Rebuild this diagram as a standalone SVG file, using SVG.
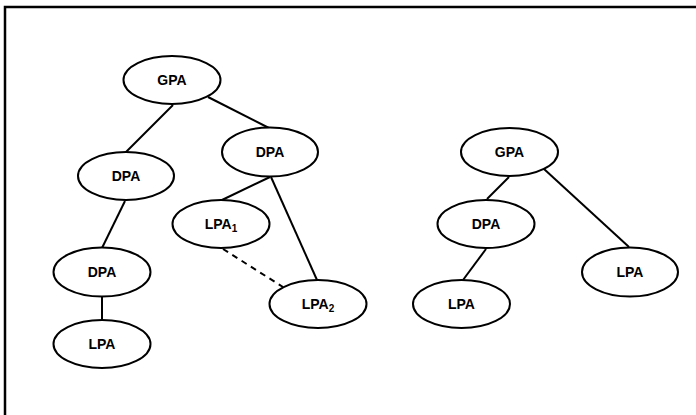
<svg xmlns="http://www.w3.org/2000/svg" width="696" height="415" viewBox="0 0 696 415">
<style>
.n ellipse{fill:#fff;stroke:#000;stroke-width:2}
.n text{font-family:"Liberation Sans",Arial,sans-serif;font-weight:bold;font-size:14px;text-anchor:middle;fill:#000}
.sub{font-size:10px}
#edges line{stroke:#000;stroke-width:2}
#edges .dash{stroke-dasharray:6,5}
</style>
<rect x="5" y="7" width="700" height="420" fill="#fff" stroke="#000" stroke-width="2.5"/>
<g id="edges">
<line x1="173" y1="105" x2="126" y2="152"/>
<line x1="208" y1="97" x2="269" y2="128"/>
<line x1="125" y1="201" x2="102" y2="248"/>
<line x1="102" y1="297" x2="102" y2="320"/>
<line x1="270" y1="177" x2="222" y2="200"/>
<line x1="271" y1="177" x2="317" y2="280"/>
<line class="dash" x1="223" y1="249" x2="283" y2="287"/>
<line x1="509" y1="177" x2="487" y2="199"/>
<line x1="544" y1="169" x2="629" y2="247"/>
<line x1="486" y1="249" x2="463" y2="280"/>
</g>
<g id="gpa1" class="n"><ellipse cx="172" cy="80" rx="48.5" ry="24"/><text x="172" y="85">GPA</text></g>
<g id="dpa1" class="n"><ellipse cx="270" cy="152" rx="48" ry="24.5"/><text x="270" y="157">DPA</text></g>
<g id="dpa2" class="n"><ellipse cx="126" cy="176" rx="48" ry="24"/><text x="126" y="181">DPA</text></g>
<g id="lpa1" class="n"><ellipse cx="221" cy="224" rx="48.5" ry="24"/><text x="221" y="229">LPA<tspan class="sub" dy="3">1</tspan></text></g>
<g id="dpa3" class="n"><ellipse cx="102" cy="272" rx="48.5" ry="24.5"/><text x="102" y="277">DPA</text></g>
<g id="lpa3" class="n"><ellipse cx="102" cy="344" rx="48.5" ry="24"/><text x="102" y="349">LPA</text></g>
<g id="lpa2" class="n"><ellipse cx="318" cy="304" rx="48.5" ry="24"/><text x="318" y="309">LPA<tspan class="sub" dy="3">2</tspan></text></g>
<g id="gpa2" class="n"><ellipse cx="509.5" cy="152" rx="48.5" ry="24"/><text x="509.5" y="157">GPA</text></g>
<g id="dpa4" class="n"><ellipse cx="486" cy="224" rx="48.5" ry="24"/><text x="486" y="229">DPA</text></g>
<g id="lpa4" class="n"><ellipse cx="630" cy="272" rx="48" ry="24.5"/><text x="630" y="277">LPA</text></g>
<g id="lpa5" class="n"><ellipse cx="461.5" cy="304" rx="48.5" ry="24"/><text x="461.5" y="309">LPA</text></g>
</svg>
